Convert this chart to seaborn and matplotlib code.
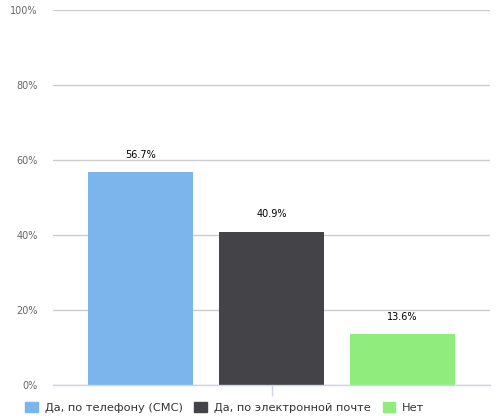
import pandas as pd
import matplotlib.pyplot as plt
import seaborn as sns

# data
series = ['Да, по телефону (СМС)', 'Да, по электронной почте', 'Нет']
values = [56.7, 40.9, 13.6]
colors = ['#7cb5ec', '#434348', '#90ed7d']
yticks = [0, 20, 40, 60, 80, 100]

df = pd.DataFrame({'cat': [''] * len(series), 'series': series, 'value': values})

sns.set_style('white')
plt.rcParams['font.family'] = ['DejaVu Sans']

fig = plt.figure(figsize=(5, 4.16), dpi=100)
ax = fig.add_axes([0.106, 0.0745, 0.874, 0.9015])

sns.barplot(data=df, x='cat', y='value', hue='series', hue_order=series,
            palette=colors, width=0.9, gap=0.2, ax=ax, legend=False,
            saturation=1, errorbar=None, linewidth=0)

for c in ax.containers:
    ax.bar_label(c, labels=[f'{v:.1f}%' for v in c.datavalues], padding=9,
                 fontsize=7, color='#000000')

ax.set_xlim(-0.5, 0.5)
ax.set_ylim(0, 100)
ax.set_yticks(yticks)
ax.set_yticklabels([f'{t}%' for t in yticks])
ax.yaxis.grid(True, color='#cccccc', linewidth=1)
ax.set_axisbelow(True)
for s in ['top', 'right', 'left']:
    ax.spines[s].set_visible(False)
ax.spines['bottom'].set_color('#ccd6eb')
ax.spines['bottom'].set_linewidth(1)
ax.set_xlabel('')
ax.set_ylabel('')
ax.set_xticks([0])
ax.set_xticklabels([''])
ax.tick_params(axis='x', length=8, color='#ccd6eb', width=1, direction='out', bottom=True)
ax.tick_params(axis='y', length=0, labelsize=7, labelcolor='#666666', pad=11)

handles = [plt.Rectangle((0, 0), 1, 1, color=c) for c in colors]
fig.legend(handles, series, loc='lower left', bbox_to_anchor=(0.03, -0.018),
           ncol=3, frameon=False, fontsize=8.2, labelcolor='#333333',
           handlelength=1.1, handleheight=1.0, handletextpad=0.6,
           columnspacing=1.05)

fig.savefig('out.png', dpi=100)
